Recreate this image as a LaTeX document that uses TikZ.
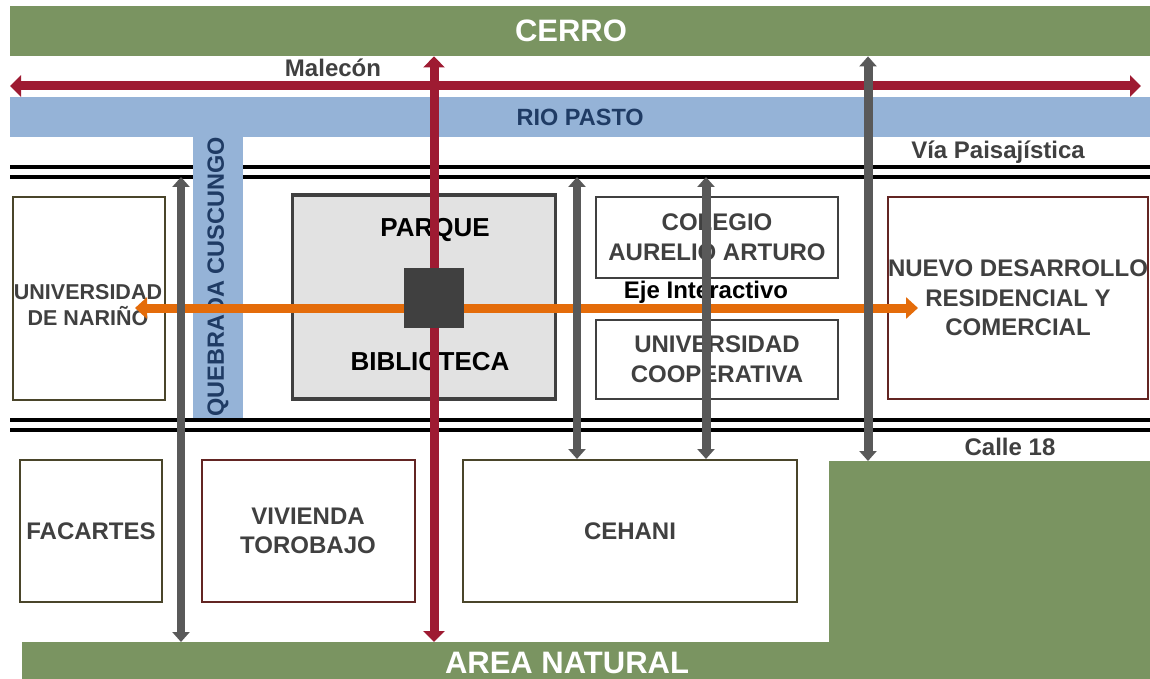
\documentclass[tikz,border=0pt]{standalone}
\usepackage{fontspec}
\setmainfont{Liberation Sans}
\usepackage{xcolor}
\definecolor{AreaVerde}{HTML}{7A9461}
\definecolor{RioAzul}{HTML}{95B3D7}
\definecolor{RioTexto}{HTML}{1F3B64}
\definecolor{EjeRojo}{HTML}{9E1B32}
\definecolor{EjeNaranja}{HTML}{E46C0A}
\definecolor{EjeGris}{HTML}{595959}
\definecolor{TextoGris}{HTML}{404040}
\definecolor{BordeOliva}{HTML}{4A452A}
\definecolor{BordeVino}{HTML}{632523}
\definecolor{ParqueGris}{HTML}{E2E2E2}
\usetikzlibrary{arrows.meta}

\begin{document}
\begin{tikzpicture}[
    x=1pt, y=-1pt,
    zona/.style={rectangle, fill=AreaVerde, inner sep=0pt, anchor=north west},
    zonaTxt/.style={text=white, inner sep=0pt, font=\fontsize{31}{31}\selectfont\bfseries},
    rio/.style={rectangle, fill=RioAzul, text=RioTexto, inner sep=0pt, font=\fontsize{23.5}{23.5}\selectfont\bfseries},
    via/.style={line width=3.5pt, black},
    etiqueta/.style={text=TextoGris, inner sep=0pt, font=\fontsize{24}{24}\selectfont\bfseries},
    caja/.style={rectangle, draw=BordeOliva, line width=2pt, fill=white, text=TextoGris, align=center, inner sep=0pt, font=\fontsize{24}{29.5}\selectfont\bfseries},
    rojo/.style={draw=EjeRojo, line width=9pt, arrows={Triangle[width=21pt,length=11pt]-Triangle[width=21pt,length=11pt]}},
    gris/.style={draw=EjeGris, line width=8pt, arrows={Triangle[width=17pt,length=10pt]-Triangle[width=17pt,length=10pt]}},
    naranja/.style={draw=EjeNaranja, line width=9pt, arrows={Triangle[width=21pt,length=12pt]-Triangle[width=21pt,length=12pt]}},
]
\useasboundingbox (0,0) rectangle (1150,679);

% Cerro y rio
\node[zona, minimum width=1140pt, minimum height=50pt] (cerro) at (10,6) {};
\node[zonaTxt] (cerroTxt) at (571,31) {CERRO};
\node[rio, anchor=north west, minimum width=1140pt, minimum height=40pt] (pasto) at (10,97) {RIO PASTO};

% Area natural
\node[zona, minimum width=321pt, minimum height=182pt] (bosque) at (829,461) {};
\node[zona, minimum width=1128pt, minimum height=40pt] (natural) at (22,642) {};
\node[zonaTxt] (naturalTxt) at (567,663) {AREA NATURAL};

% Vias
\draw[via] (10,167) -- (1150,167);
\draw[via] (10,177) -- (1150,177);
\draw[via] (10,420) -- (1150,420);
\draw[via] (10,430) -- (1150,430);
\node[etiqueta] (paisaje) at (998,152) {Vía Paisajística};
\node[etiqueta] (calle) at (1010,447) {Calle 18};

% Quebrada
\node[rio, rotate=90, minimum width=282pt, minimum height=50pt] (quebrada) at (218,277) {QUEBRADA CUSCUNGO};

% Malecon
\coordinate (malO) at (10,86);
\coordinate (malE) at (1141,86);
\draw[rojo] (malO) -- (malE);
\node[etiqueta] (malecon) at (333,68) {Malecón};

% Equipamientos
\node[caja, minimum width=152pt, minimum height=203pt] (udenar) at (89,298) {};
\node[text=TextoGris, align=center, inner sep=0pt, font=\fontsize{21.5}{26}\selectfont\bfseries] (udenarTxt) at (88,305) {UNIVERSIDAD\\DE NARIÑO};
\node[caja, draw=TextoGris, fill=ParqueGris, line width=3.5pt, minimum width=263pt, minimum height=204pt] (parque) at (424,297) {};
\node[font=\fontsize{26}{26}\selectfont\bfseries, inner sep=0pt] (parqueTxt) at (435,230) {PARQUE};
\node[font=\fontsize{26}{26}\selectfont\bfseries, inner sep=0pt] (biblioTxt) at (430,362) {BIBLIOTECA};
\node[caja, draw=TextoGris, minimum width=242pt, minimum height=81pt] (colegio) at (717,237) {COLEGIO\\AURELIO ARTURO};
\node[caja, draw=TextoGris, minimum width=242pt, minimum height=79pt] (ucc) at (717,359) {UNIVERSIDAD\\COOPERATIVA};
\node[caja, draw=BordeVino, minimum width=260pt, minimum height=202pt] (nuevo) at (1018,298) {NUEVO DESARROLLO\\RESIDENCIAL Y\\COMERCIAL};
\node[caja, minimum width=142pt, minimum height=142pt] (facartes) at (91,531) {FACARTES};
\node[caja, draw=BordeVino, minimum width=213pt, minimum height=142pt] (vivienda) at (308,531) {VIVIENDA\\TOROBAJO};
\node[caja, minimum width=334pt, minimum height=142pt] (cehani) at (630,531) {CEHANI};

% Ejes
\coordinate (centro) at (434,298);
\draw[rojo] (natural.north -| centro) -- (cerro.south -| centro);
\coordinate (ejeO) at (135,308);
\coordinate (ejeE) at (918,308);
\draw[naranja] (ejeO) -- (ejeE);
\node[font=\fontsize{24}{24}\selectfont\bfseries, inner sep=0pt] (eje) at (706,292) {Eje Interactivo};

\coordinate (g1) at (181,177);
\coordinate (g2) at (577,177);
\coordinate (g3) at (706,177);
\coordinate (g4) at (868,177);
\draw[gris] (g1) -- (g1 |- natural.north);
\draw[gris] (g2) -- (g2 |- cehani.north);
\draw[gris, line width=9pt] (g3) -- (g3 |- cehani.north);
\draw[gris, line width=9pt] (g4 |- cerro.south) -- (g4 |- bosque.north);

% Plaza central
\node[fill=TextoGris, minimum size=60pt, inner sep=0pt] (plaza) at (centro) {};

\end{tikzpicture}
\end{document}
